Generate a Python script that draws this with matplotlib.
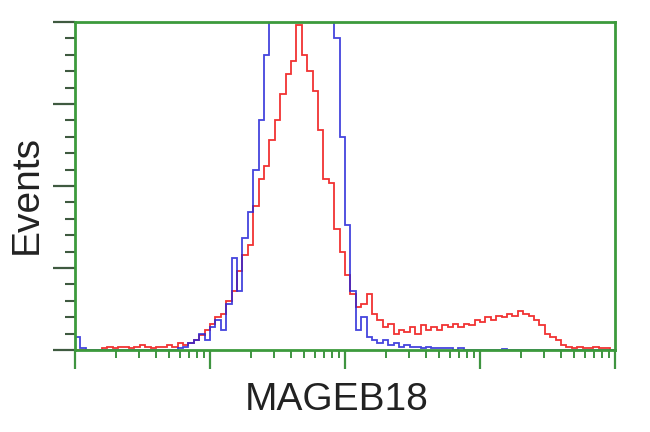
import numpy as np
import matplotlib
matplotlib.use("Agg")
import matplotlib.pyplot as plt
from matplotlib.ticker import LogLocator, MultipleLocator, NullFormatter

# -----------------------------
# Histogram data (log10 channels, 0.04 decade per bin)
# -----------------------------
bin_step = 0.04
n_bins = 100

red_counts = [
    0, 0, 0, 0, 0, 0.5, 1, 0.5, 1, 1,
    0.5, 1, 1.5, 1, 0.5, 1, 1, 1.5, 1, 2,
    1.5, 2, 3, 4.5, 6, 8, 10, 11, 15, 18,
    24, 29, 32, 44, 52, 56, 64, 70, 78, 84,
    88, 99, 90, 85, 79, 67, 52, 51, 37, 30,
    23, 17, 13, 14, 17, 11, 9, 7, 8, 5,
    6, 5.5, 7, 5, 7.5, 6, 7, 6, 7.5, 7,
    8, 7, 8, 7.5, 9, 8.5, 10, 9, 10.5, 10,
    11, 10.5, 12, 11, 10.5, 9, 7.5, 5, 4, 3,
    1.5, 1, 0.5, 1, 0.5, 0.5, 1, 0.5, 0.5, 0,
]

blue_counts = [
    4, 0.5, 0, 0, 0, 0, 0, 0, 0, 0,
    0, 0, 0, 0, 0, 0, 0, 0, 0, 0.5,
    1, 2, 3, 5, 3, 7, 9, 6, 14, 28,
    18, 34, 42, 55, 70, 90, 130, 150, 170, 185,
    190, 180, 175, 160, 150, 140, 125, 110, 95, 65,
    38, 18, 6, 10, 4, 3, 2, 3, 1.5, 2,
    1, 1.5, 1, 1, 0.5, 1, 0.5, 0.5, 0.5, 0.5,
    0, 0.5, 0, 0, 0, 0, 0, 0, 0, 0.3,
    0, 0, 0, 0, 0, 0, 0, 0, 0, 0,
    0, 0, 0, 0, 0, 0, 0, 0, 0, 0,
]

x_label = "MAGEB18"
y_label = "Events"

edges = 10 ** (bin_step * np.arange(n_bins + 1))

# -----------------------------
# Plot
# -----------------------------
fig = plt.figure(figsize=(6.5, 4.32), dpi=100)
ax = fig.add_axes([75 / 650, 1 - 350 / 432, 540 / 650, 328 / 432])

ax.stairs(red_counts, edges, color="#f01c1c", lw=1.3, alpha=0.9)
ax.stairs(blue_counts, edges, color="#2424d8", lw=1.3, alpha=0.85)

ax.set_xscale("log")
ax.set_xlim(1, 1e4)
ax.set_ylim(0, 100)

green = "#3c9a3c"
for s in ax.spines.values():
    s.set_color(green)
    s.set_linewidth(2)

ax.xaxis.set_major_locator(LogLocator(base=10, numticks=10))
ax.xaxis.set_minor_locator(LogLocator(base=10, subs=np.arange(2, 10), numticks=10))
ax.xaxis.set_major_formatter(NullFormatter())
ax.xaxis.set_minor_formatter(NullFormatter())
ax.yaxis.set_major_locator(MultipleLocator(25))
ax.yaxis.set_minor_locator(MultipleLocator(5))
ax.yaxis.set_major_formatter(NullFormatter())

# x ticks green, y ticks darker
ax.tick_params(axis="x", which="major", direction="out", length=14, width=1.6, color="#3f9440")
ax.tick_params(axis="x", which="minor", direction="out", length=6, width=1.4, color="#3f9440")
ax.tick_params(axis="y", which="major", direction="out", length=16, width=1.6, color="#3f5a40")
ax.tick_params(axis="y", which="minor", direction="out", length=7, width=1.5, color="#3f5a40")
ax.tick_params(top=False, right=False)

font = ["Liberation Sans", "DejaVu Sans"]
fig.text(337 / 650, 1 - 400 / 432, x_label, ha="center", va="center",
         fontsize=28, family=font, color="#222222")
fig.text(27 / 650, 1 - 195 / 432, y_label, ha="center", va="center",
         rotation=90, fontsize=28, family=font, color="#222222")

plt.savefig("out.png", dpi=100)
